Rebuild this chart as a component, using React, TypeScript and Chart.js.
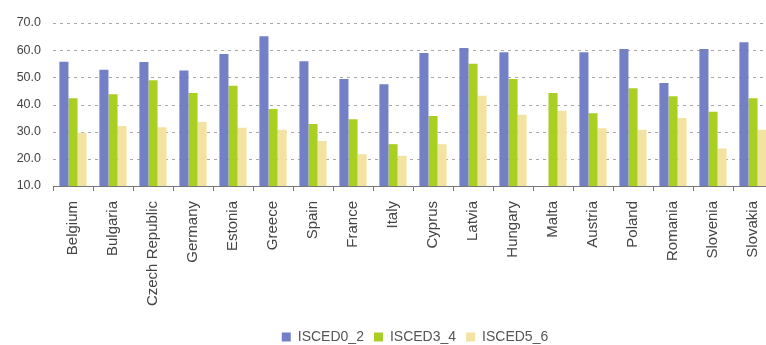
import React, { useEffect, useRef } from "react";
import { Chart, registerables } from "chart.js";

Chart.register(...registerables);

const countries = [
  "Belgium", "Bulgaria", "Czech Republic", "Germany", "Estonia", "Greece",
  "Spain", "France", "Italy", "Cyprus", "Latvia", "Hungary", "Malta",
  "Austria", "Poland", "Romania", "Slovenia", "Slovakia",
];

const isced02 = [55.7, 52.8, 55.6, 52.5, 58.6, 65.1, 55.9, 49.4, 47.5, 59.0, 60.8, 59.2, null, 59.2, 60.4, 47.9, 60.4, 62.9];
const isced34 = [42.3, 43.8, 48.9, 44.2, 46.9, 38.3, 32.8, 34.6, 25.4, 35.8, 55.0, 49.4, 44.2, 36.8, 46.0, 43.0, 37.3, 42.3];
const isced56 = [29.6, 32.1, 31.6, 33.6, 31.4, 30.7, 26.6, 21.7, 21.1, 25.4, 43.2, 36.2, 37.7, 31.3, 30.7, 35.0, 23.8, 30.7];

const seriesNames = ["ISCED0_2", "ISCED3_4", "ISCED5_6"];
const yMin = 10;
const yMax = 70;
const yStep = 10;

const FONT = "Arial, 'Liberation Sans', sans-serif";

// Moves the legend box after layout so it sits centred under the full canvas width.
const legendShift = {
  id: "legendShift",
  afterLayout(chart: any) {
    const lg = chart.legend;
    if (!lg) return;
    const dx = chart.width / 2 - (lg.left + lg.right) / 2;
    lg.left += dx;
    lg.right += dx;
    lg.top += 9;
    lg.bottom += 9;
  },
};

// Dotted horizontal gridlines at each y tick, positioned by the y scale.
const dottedGrid = {
  id: "dottedGrid",
  beforeDatasetsDraw(chart: any) {
    const { ctx, chartArea, scales } = chart;
    const y = scales.y;
    ctx.save();
    ctx.strokeStyle = "#a8a8a8";
    ctx.lineWidth = 1;
    ctx.setLineDash([3, 4]);
    y.ticks.forEach((t: any) => {
      if (t.value <= yMin) return;
      const py = Math.round(y.getPixelForValue(t.value)) + 0.5;
      ctx.beginPath();
      ctx.moveTo(chartArea.left, py);
      ctx.lineTo(chartArea.right, py);
      ctx.stroke();
    });
    ctx.restore();
  },
};

export default function App() {
  const canvasRef = useRef<HTMLCanvasElement | null>(null);

  useEffect(() => {
    const canvas = canvasRef.current;
    if (!canvas) return;
    const chart = new Chart(canvas, {
      type: "bar",
      data: {
        labels: countries,
        datasets: [
          { label: seriesNames[0], data: isced02, backgroundColor: "#7480c6" },
          { label: seriesNames[1], data: isced34, backgroundColor: "#a8cf22" },
          { label: seriesNames[2], data: isced56, backgroundColor: "#f3e3a2" },
        ],
      },
      options: {
        animation: false,
        responsive: false,
        maintainAspectRatio: false,
        layout: { padding: { top: 23, right: 57, bottom: 0, left: 0 } },
        datasets: {
          bar: { categoryPercentage: 0.68, barPercentage: 1 },
        },
        plugins: {
          tooltip: { enabled: false },
          legend: {
            position: "bottom",
            labels: {
              boxWidth: 9,
              boxHeight: 9,
              padding: 10,
              color: "#555",
              font: { family: FONT, size: 14 },
            },
          },
        },
        scales: {
          x: {
            offset: true,
            grid: {
              offset: true,
              drawOnChartArea: false,
              tickLength: 5,
              color: "#777",
            },
            border: { color: "#777" },
            ticks: {
              minRotation: 90,
              maxRotation: 90,
              padding: 10,
              color: "#444",
              font: { family: FONT, size: 15 },
              autoSkip: false,
            },
            afterFit: (s: any) => {
              s.height = 125;
            },
          },
          y: {
            min: yMin,
            max: yMax,
            border: { display: false },
            grid: { display: false, drawTicks: false },
            ticks: {
              stepSize: yStep,
              padding: 12,
              color: "#444",
              font: { family: FONT, size: 12.5 },
              callback: (v: any) => Number(v).toFixed(1),
            },
            afterFit: (s: any) => {
              s.width = 53;
            },
          },
        },
      },
      plugins: [legendShift, dottedGrid],
    });
    return () => chart.destroy();
  }, []);

  return (
    <div style={{ position: "fixed", left: 0, top: 0, width: 766, height: 345, overflow: "hidden", background: "#fff" }}>
      <canvas ref={canvasRef} width={830} height={345} style={{ width: 830, height: 345, display: "block" }} />
    </div>
  );
}
